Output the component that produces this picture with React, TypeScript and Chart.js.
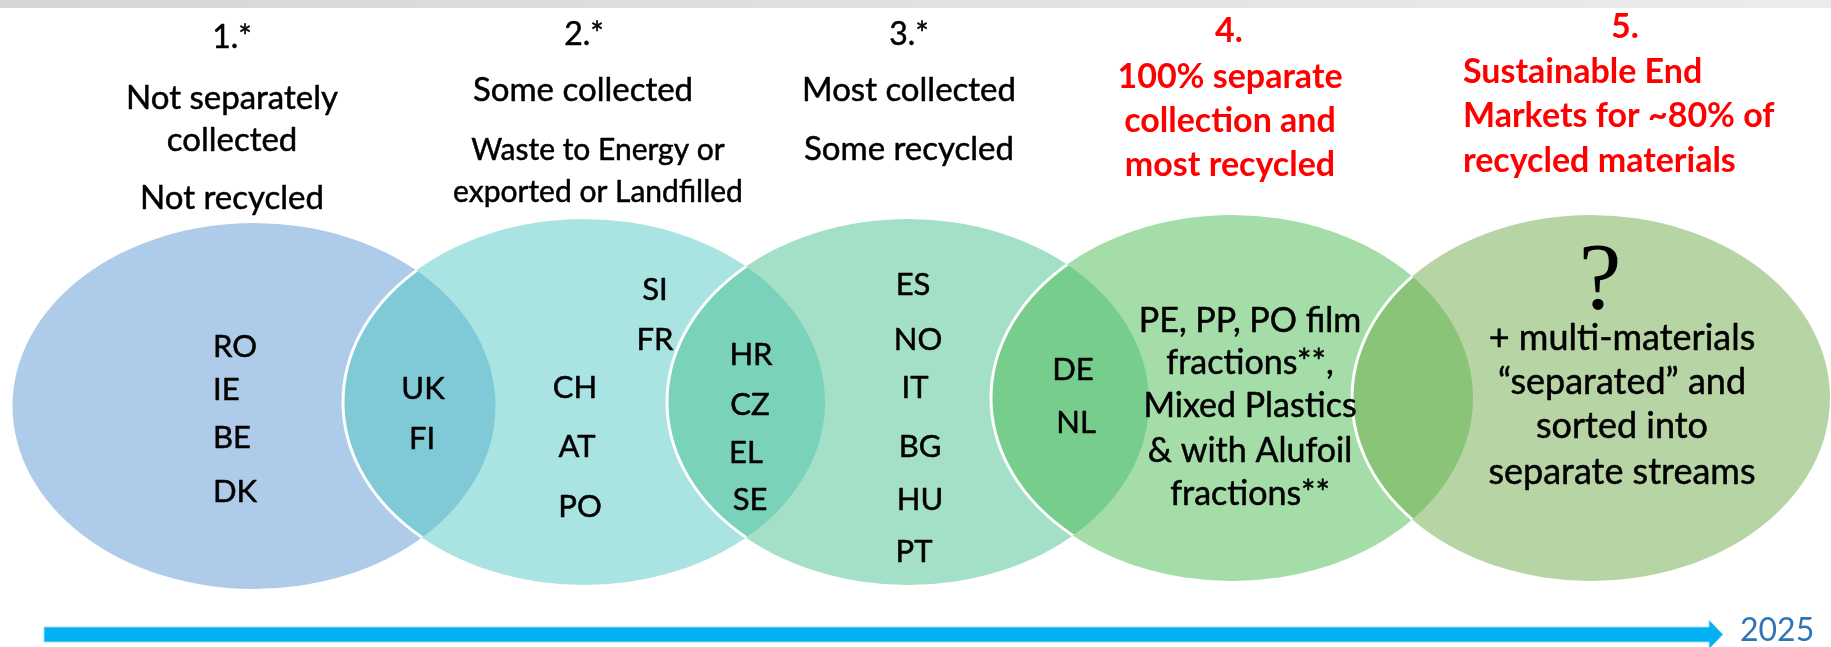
import React, { useEffect, useRef } from "react";
import { Chart, registerables } from "chart.js";

Chart.register(...registerables);

const W = 1831;
const H = 647;

// ---------- content ----------
const stageNumbers = ["1.*", "2.*", "3.*", "4.", "5."];
const stage1Text = ["Not separately", "collected", "Not recycled"];
const stage2Text = ["Some collected", "Waste to Energy or", "exported or Landfilled"];
const stage3Text = ["Most collected", "Some recycled"];
const stage4Text = ["100% separate", "collection and", "most recycled"];
const stage5Text = ["Sustainable End", "Markets for ~80% of", "recycled materials"];

const only1Countries = ["RO", "IE", "BE", "DK"];
const overlap12Countries = ["UK", "FI"];
const only2UpperCountries = ["SI", "FR"];
const only2LowerCountries = ["CH", "AT", "PO"];
const overlap23Countries = ["HR", "CZ", "EL", "SE"];
const only3Countries = ["ES", "NO", "IT", "BG", "HU", "PT"];
const overlap34Countries = ["DE", "NL"];
const only4Text = ["PE, PP, PO film", "fractions**,", "Mixed Plastics", "& with Alufoil", "fractions**"];
const only5Mark = "?";
const only5Text = ["+ multi-materials", "\u201Cseparated\u201D and", "sorted into", "separate streams"];
const timelineLabel = "2025";

// ---------- layout (diagram units; the scales map them to the canvas) ----------
const ellipseCX = [254, 584, 908, 1232, 1591];
const ellipseCY = [406, 402, 402, 398, 398];
const ellipseRX = [241.5, 241, 241, 241, 239];
const ellipseRY = [183, 183, 183, 183, 183];
const ellipseFill = [
  "rgba(93,151,211,0.5)",
  "rgba(83,201,199,0.5)",
  "rgba(73,193,143,0.5)",
  "rgba(73,187,81,0.5)",
  "rgba(111,171,73,0.5)",
];

type Block = {
  lines: string[];
  xs: number[];
  ys: number[];
  font: string;
  color: string;
  align: CanvasTextAlign;
  stroke?: number;
};

const F_NUM = "32px Lato";
const F_DESC = "33px Lato";
const F_DESC_S = "30px Lato";
const F_CTRY = "31px Lato";
const F_BOLD = "bold 34px Lato";
const F_IN4 = "34px Lato";
const F_IN5 = "36px Lato";
const BLACK = "#000000";
const RED = "#FF0000";
const SW = 0.5;

const blocks: Block[] = [
  { lines: stageNumbers.slice(0, 1), xs: [232], ys: [48], font: F_NUM, color: BLACK, align: "center", stroke: SW },
  { lines: stageNumbers.slice(1, 2), xs: [584], ys: [45], font: F_NUM, color: BLACK, align: "center", stroke: SW },
  { lines: stageNumbers.slice(2, 3), xs: [909], ys: [45], font: F_NUM, color: BLACK, align: "center", stroke: SW },
  { lines: stageNumbers.slice(3, 4), xs: [1229], ys: [42], font: F_BOLD, color: RED, align: "center" },
  { lines: stageNumbers.slice(4, 5), xs: [1625], ys: [38], font: F_BOLD, color: RED, align: "center" },
  { lines: stage1Text, xs: [232, 232, 232], ys: [109, 151, 209], font: F_DESC, color: BLACK, align: "center", stroke: SW },
  { lines: stage2Text.slice(0, 1), xs: [583], ys: [101], font: F_DESC, color: BLACK, align: "center", stroke: SW },
  { lines: stage2Text.slice(1), xs: [598, 598], ys: [160, 202], font: F_DESC_S, color: BLACK, align: "center", stroke: SW },
  { lines: stage3Text, xs: [909, 909], ys: [101, 160], font: F_DESC, color: BLACK, align: "center", stroke: SW },
  { lines: stage4Text, xs: [1230, 1230, 1230], ys: [88, 132, 176], font: F_BOLD, color: RED, align: "center" },
  { lines: stage5Text, xs: [1463, 1463, 1463], ys: [83, 127, 172], font: F_BOLD, color: RED, align: "left" },
  { lines: only1Countries, xs: [213, 213, 213, 213], ys: [357, 400, 448, 502], font: F_CTRY, color: BLACK, align: "left", stroke: SW },
  { lines: overlap12Countries, xs: [423, 422], ys: [399, 449], font: F_CTRY, color: BLACK, align: "center", stroke: SW },
  { lines: only2UpperCountries, xs: [655, 655], ys: [300, 350], font: F_CTRY, color: BLACK, align: "center", stroke: SW },
  { lines: only2LowerCountries, xs: [575, 577, 580], ys: [398, 457, 517], font: F_CTRY, color: BLACK, align: "center", stroke: SW },
  { lines: overlap23Countries, xs: [751, 750, 746, 750], ys: [365, 415, 463, 510], font: F_CTRY, color: BLACK, align: "center", stroke: SW },
  { lines: only3Countries, xs: [913, 918, 915, 920, 920, 914], ys: [295, 350, 398, 457, 510, 562], font: F_CTRY, color: BLACK, align: "center", stroke: SW },
  { lines: overlap34Countries, xs: [1073, 1076], ys: [380, 433], font: F_CTRY, color: BLACK, align: "center", stroke: SW },
  { lines: only4Text, xs: [1250, 1250, 1250, 1250, 1250], ys: [332, 374, 417, 462, 505], font: F_IN4, color: BLACK, align: "center", stroke: SW },
  { lines: [only5Mark], xs: [1600], ys: [309], font: "96px 'Liberation Serif'", color: BLACK, align: "center" },
  { lines: only5Text, xs: [1622, 1622, 1622, 1622], ys: [350, 394, 438, 484], font: F_IN5, color: BLACK, align: "center", stroke: SW },
];

// timeline arrow
const arrowStartX = 44;
const arrowHeadBaseX = 1709;
const arrowTipX = 1723;
const arrowY = 634.5;
const arrowShaftHalf = 7.5;
const arrowHeadHalf = 14.5;
const labelX = 1740;
const labelY = 641;

const diagramPlugin = {
  id: "vennDiagram",
  beforeDatasetsDraw(chart: any) {
    const ctx: CanvasRenderingContext2D = chart.ctx;
    const sx = chart.scales.x;
    const sy = chart.scales.y;
    const px = (v: number) => sx.getPixelForValue(v);
    const py = (v: number) => sy.getPixelForValue(v);

    // top band
    ctx.save();
    const g = ctx.createLinearGradient(px(0), 0, px(W), 0);
    g.addColorStop(0, "#d6d6d6");
    g.addColorStop(1, "#ececec");
    ctx.fillStyle = g;
    ctx.fillRect(px(0), py(0), px(W) - px(0), py(8) - py(0));
    ctx.restore();

    const meta = chart.getDatasetMeta(0);
    const geo = meta.data.map((el: any, i: number) => ({
      x: el.x,
      y: el.y,
      rx: Math.abs(px(ellipseCX[i] + ellipseRX[i]) - px(ellipseCX[i])),
      ry: Math.abs(py(ellipseCY[i] + ellipseRY[i]) - py(ellipseCY[i])),
    }));
    const path = (e: any) => {
      ctx.beginPath();
      ctx.ellipse(e.x, e.y, e.rx, e.ry, 0, 0, Math.PI * 2);
    };
    geo.forEach((e: any, i: number) => {
      ctx.save();
      path(e);
      ctx.fillStyle = ellipseFill[i];
      ctx.fill();
      ctx.restore();
      if (i > 0) {
        ctx.save();
        path(geo[i - 1]);
        ctx.clip();
        path(e);
        ctx.strokeStyle = "#ffffff";
        ctx.lineWidth = 3;
        ctx.stroke();
        ctx.restore();
      }
    });
  },
  afterDatasetsDraw(chart: any) {
    const ctx: CanvasRenderingContext2D = chart.ctx;
    const sx = chart.scales.x;
    const sy = chart.scales.y;
    const px = (v: number) => sx.getPixelForValue(v);
    const py = (v: number) => sy.getPixelForValue(v);

    ctx.save();
    ctx.textBaseline = "alphabetic";
    ctx.lineJoin = "round";
    blocks.forEach((b) => {
      ctx.font = b.font;
      ctx.fillStyle = b.color;
      ctx.strokeStyle = b.color;
      ctx.textAlign = b.align;
      b.lines.forEach((t, i) => {
        ctx.fillText(t, px(b.xs[i]), py(b.ys[i]));
        if (b.stroke) {
          ctx.lineWidth = b.stroke;
          ctx.strokeText(t, px(b.xs[i]), py(b.ys[i]));
        }
      });
    });
    ctx.restore();

    // arrow
    ctx.save();
    ctx.fillStyle = "#00B0F0";
    ctx.beginPath();
    ctx.moveTo(px(arrowStartX), py(arrowY - arrowShaftHalf));
    ctx.lineTo(px(arrowHeadBaseX), py(arrowY - arrowShaftHalf));
    ctx.lineTo(px(arrowHeadBaseX), py(arrowY - arrowHeadHalf));
    ctx.lineTo(px(arrowTipX), py(arrowY));
    ctx.lineTo(px(arrowHeadBaseX), py(arrowY + arrowHeadHalf));
    ctx.lineTo(px(arrowHeadBaseX), py(arrowY + arrowShaftHalf));
    ctx.lineTo(px(arrowStartX), py(arrowY + arrowShaftHalf));
    ctx.closePath();
    ctx.fill();
    ctx.strokeStyle = "rgba(160,225,250,0.9)";
    ctx.lineWidth = 1;
    ctx.stroke();
    ctx.font = "32px Lato";
    ctx.fillStyle = "#2E75B6";
    ctx.textAlign = "left";
    ctx.fillText(timelineLabel, px(labelX), py(labelY));
    ctx.restore();
  },
};

export default function App() {
  const ref = useRef<HTMLCanvasElement | null>(null);
  useEffect(() => {
    if (!ref.current) return;
    const chart = new Chart(ref.current, {
      type: "scatter",
      data: {
        datasets: [
          {
            label: "stages",
            data: ellipseCX.map((x, i) => ({ x, y: ellipseCY[i] })),
            pointRadius: 0,
            pointHoverRadius: 0,
            showLine: false,
          },
        ],
      },
      options: {
        animation: false,
        responsive: true,
        maintainAspectRatio: false,
        devicePixelRatio: 1,
        events: [],
        layout: { padding: 0 },
        plugins: { legend: { display: false }, tooltip: { enabled: false } },
        scales: {
          x: { type: "linear", display: false, min: 0, max: W },
          y: { type: "linear", display: false, min: 0, max: H, reverse: true },
        },
      },
      plugins: [diagramPlugin],
    } as any);
    return () => chart.destroy();
  }, []);
  return (
    <div style={{ position: "absolute", left: 0, top: 0, width: W, height: H, background: "#ffffff" }}>
      <canvas ref={ref} />
    </div>
  );
}
